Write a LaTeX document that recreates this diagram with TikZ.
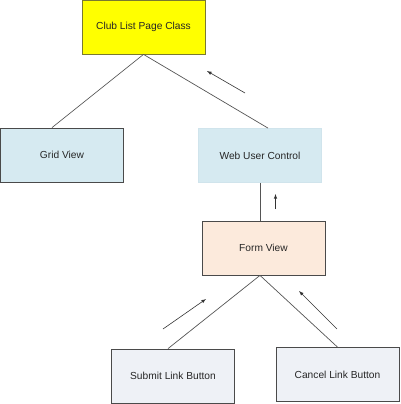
\documentclass[tikz,border=0pt]{standalone}
\usepackage{fontspec}
\setmainfont{Liberation Sans}
\usepackage{tikz}
\definecolor{clubfill}{HTML}{FFFF00}
\definecolor{clubdraw}{HTML}{7A7A30}
\definecolor{bluefill}{HTML}{D6EAF1}
\definecolor{webdraw}{HTML}{D0E4EC}
\definecolor{peachfill}{HTML}{FCEADC}
\definecolor{greyfill}{HTML}{EEF1F6}
\definecolor{boxdraw}{HTML}{4A4A4A}
\definecolor{linegrey}{HTML}{555555}

\begin{document}
\begin{tikzpicture}[x=1pt, y=-1pt, every node/.style={rectangle, draw=boxdraw, thick, minimum width=123pt, minimum height=54pt, inner sep=0pt, font=\fontsize{10.2}{12}\selectfont, text=black!85}, every path/.style={draw=linegrey, line width=0.7pt}, hint/.style={-latex, black!80, line width=0.6pt}]
				\useasboundingbox[draw=none] (0,0) rectangle (400,404);
				\node[fill=clubfill, draw=clubdraw] (club) at (143.5,27){Club List Page Class};
				\node[fill=bluefill] (grid) at (62,155){Grid View};
				\node[fill=bluefill, draw=webdraw] (web) at (260,155.5){Web User Control};
				\node[fill=peachfill] (form) at (263.5,248){Form View};
				\node[fill=greyfill] (submit) at (173,376){Submit Link Button};
				\node[fill=greyfill] (cancel) at (337.5,374.5){Cancel Link Button};
				
				\path (club.south) edge ([xshift=-10pt]grid.north);
				\path (club.south) edge ([xshift=8pt]web.north);
				\path (web.south) edge ([xshift=-3.5pt]form.north);
				\path ([xshift=-3.5pt]form.south) edge ([xshift=-5pt]submit.north);
				\path ([xshift=-3.5pt]form.south) edge (cancel.north);
				
				\coordinate (a1) at (245,93);
				\coordinate (a2) at (207,71);
				\coordinate (b1) at (275.5,209);
				\coordinate (b2) at (275.5,194);
				\coordinate (c1) at (163,329);
				\coordinate (c2) at (206,299);
				\coordinate (d1) at (337,329);
				\coordinate (d2) at (299,291);
				\draw[hint] (a1) -- (a2);
				\draw[hint] (b1) -- (b2);
				\draw[hint] (c1) -- (c2);
				\draw[hint] (d1) -- (d2);
\end{tikzpicture}
\end{document}
